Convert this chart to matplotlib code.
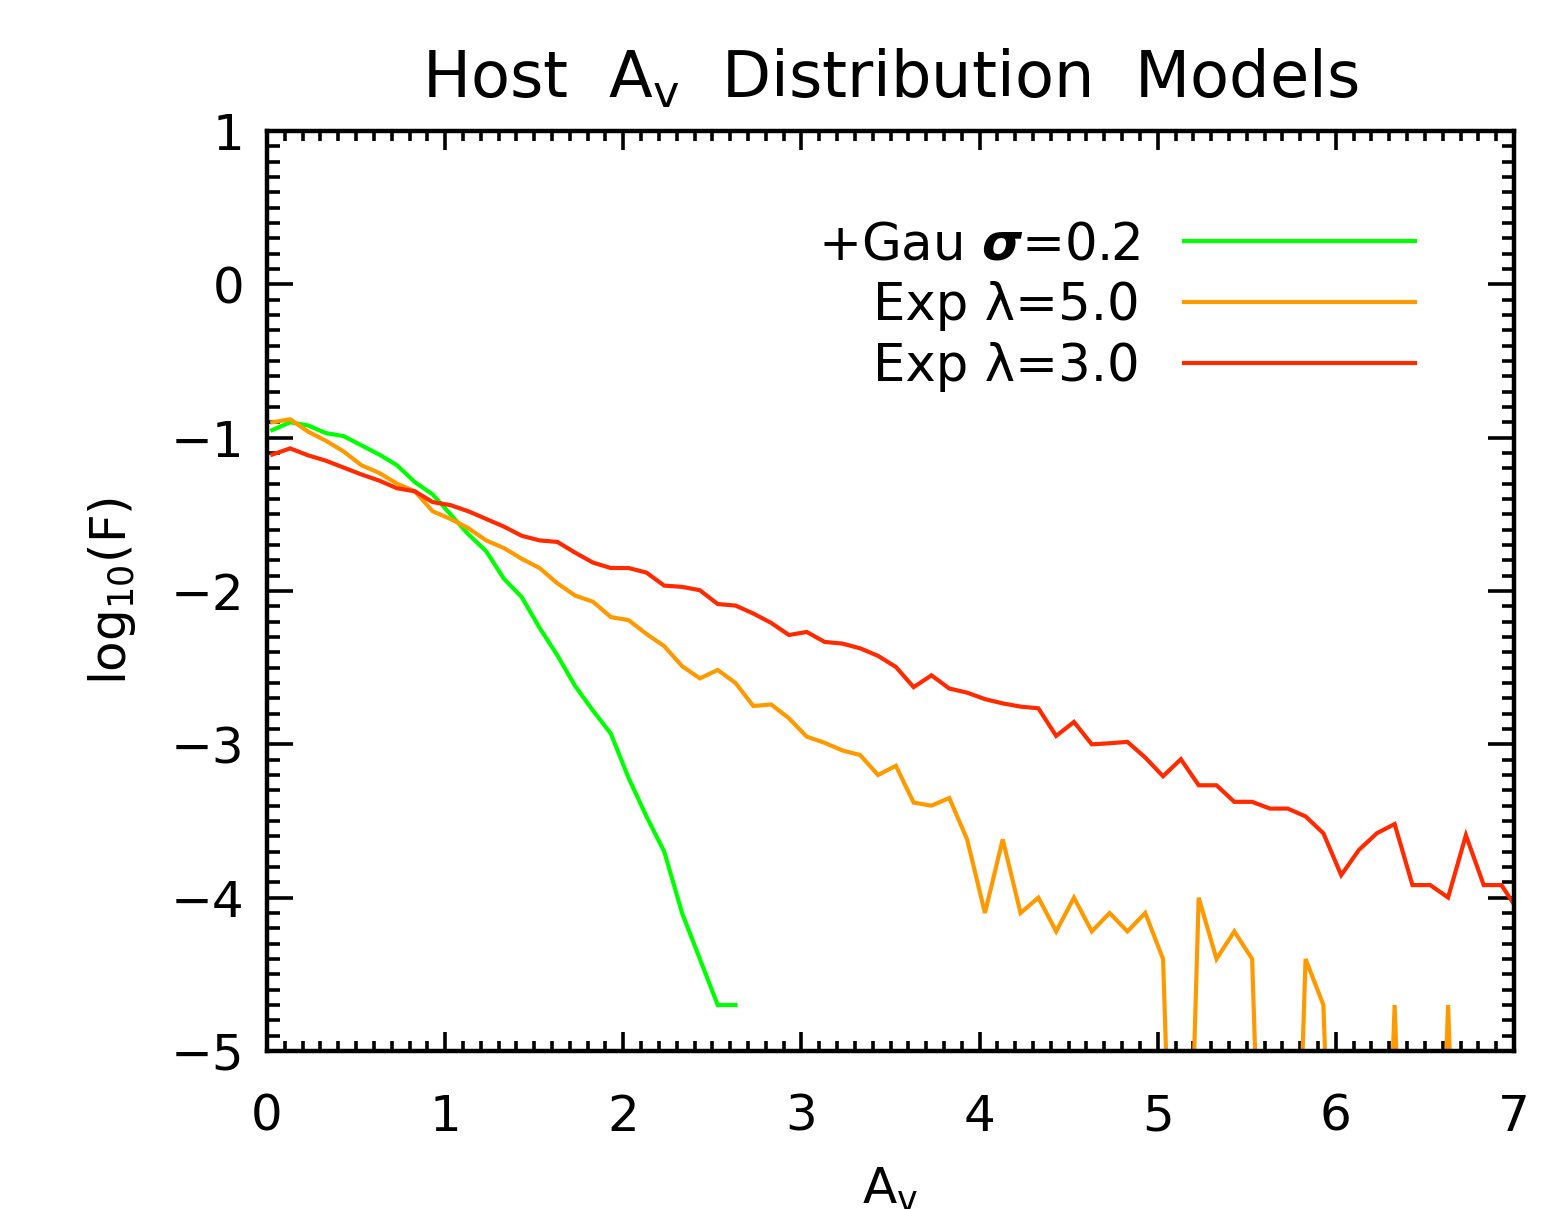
import numpy as np
import matplotlib
matplotlib.use("Agg")
import matplotlib.pyplot as plt

plt.rcParams['font.family'] = ['DejaVu Sans']
plt.rcParams['mathtext.fontset'] = 'dejavusans'

# ---- data (log10 of fraction per A_v bin; -8.0 marks empty bins, off-chart) ----
BIN_START = 0.03
BIN_WIDTH = 0.1

gau_02 = [-0.95, -0.90, -0.92, -0.97, -0.99, -1.05, -1.11, -1.18, -1.29, -1.37,
          -1.50, -1.63, -1.74, -1.92, -2.04, -2.24, -2.42, -2.62, -2.78, -2.93,
          -3.22, -3.47, -3.70, -4.10, -4.40, -4.70, -4.70]

exp_50 = [-0.90, -0.88, -0.96, -1.02, -1.09, -1.18, -1.23, -1.30, -1.35, -1.48,
          -1.53, -1.59, -1.67, -1.72, -1.79, -1.85, -1.95, -2.03, -2.07, -2.17,
          -2.19, -2.28, -2.36, -2.49, -2.57, -2.515, -2.60, -2.75, -2.74, -2.83,
          -2.95, -2.99, -3.04, -3.07, -3.20, -3.14, -3.38, -3.40, -3.35, -3.62,
          -4.10, -3.62, -4.10, -4.00, -4.22, -4.00, -4.22, -4.10, -4.22, -4.10,
          -4.40, -8.0, -4.00, -4.40, -4.22, -4.40, -8.0, -8.0, -4.40, -4.70,
          -8.0, -8.0, -8.0, -4.70, -8.0, -8.0, -4.70, -8.0, -8.0, -8.0, -8.0]

exp_30 = [-1.11, -1.07, -1.115, -1.15, -1.195, -1.24, -1.28, -1.33, -1.35, -1.42,
          -1.44, -1.48, -1.53, -1.58, -1.64, -1.67, -1.68, -1.75, -1.815, -1.85,
          -1.85, -1.88, -1.965, -1.973, -1.995, -2.085, -2.095, -2.147, -2.208, -2.287,
          -2.267, -2.332, -2.343, -2.374, -2.423, -2.495, -2.627, -2.55, -2.636, -2.663,
          -2.705, -2.733, -2.754, -2.765, -2.945, -2.854, -3.0, -2.993, -2.984, -3.086,
          -3.208, -3.097, -3.267, -3.267, -3.375, -3.375, -3.419, -3.419, -3.47, -3.58,
          -3.853, -3.688, -3.58, -3.52, -3.918, -3.918, -3.999, -3.593, -3.918, -3.918,
          -4.097]

labels = [r"+Gau $\boldsymbol{\sigma}$=0.2", "Exp \u03bb=5.0", "Exp \u03bb=3.0"]
colors = ["#00FF00", "#FF9900", "#FF2A00"]
x_ticks = [0, 1, 2, 3, 4, 5, 6, 7]
y_ticks = [-5, -4, -3, -2, -1, 0, 1]


def centers(n):
    return BIN_START + BIN_WIDTH * np.arange(n)


fig = plt.figure(figsize=(15.68, 12.09), dpi=100)
ax = fig.add_axes([267 / 1568, 1 - 1051 / 1209, (1514 - 267) / 1568, (1051 - 131) / 1209])

for series, lab, col in zip([gau_02, exp_50, exp_30], labels, colors):
    ax.plot(centers(len(series)), series, color=col, lw=3.0, label=lab,
            solid_joinstyle='miter')

ax.set_xlim(0, 7)
ax.set_ylim(-5, 1)
ax.set_xticks(x_ticks)
ax.set_yticks(y_ticks)
ax.set_xticklabels([str(v) for v in x_ticks])
ax.set_yticklabels([str(v).replace('-', '\u2212') for v in y_ticks])
ax.xaxis.set_minor_locator(matplotlib.ticker.MultipleLocator(0.1))
ax.yaxis.set_minor_locator(matplotlib.ticker.MultipleLocator(0.1))

for sp in ax.spines.values():
    sp.set_linewidth(3.2)

ax.tick_params(axis='both', which='both', direction='in', top=True, right=True,
               width=2.6, labelsize=36)
ax.tick_params(axis='x', which='major', length=14, pad=30)
ax.tick_params(axis='x', which='minor', length=7)
ax.tick_params(axis='y', which='major', length=19, pad=16)
ax.tick_params(axis='y', which='minor', length=9)

ax.set_xlabel(r"A$_{\mathregular{v}}$", fontsize=36, labelpad=18)
ax.set_ylabel(r"log$_{\mathregular{10}}$(F)", fontsize=36, labelpad=24)
ax.set_title(r"Host  A$_{\mathregular{v}}$  Distribution  Models", fontsize=46, pad=24)

leg = ax.legend(loc='upper right', bbox_to_anchor=(0.9206, 0.903), frameon=False,
                markerfirst=False, fontsize=37, handlelength=4.5, handletextpad=0.85,
                labelspacing=0.21, borderpad=0, borderaxespad=0)
for line in leg.get_lines():
    line.set_linewidth(3.0)

fig.savefig("out.png", dpi=100)
